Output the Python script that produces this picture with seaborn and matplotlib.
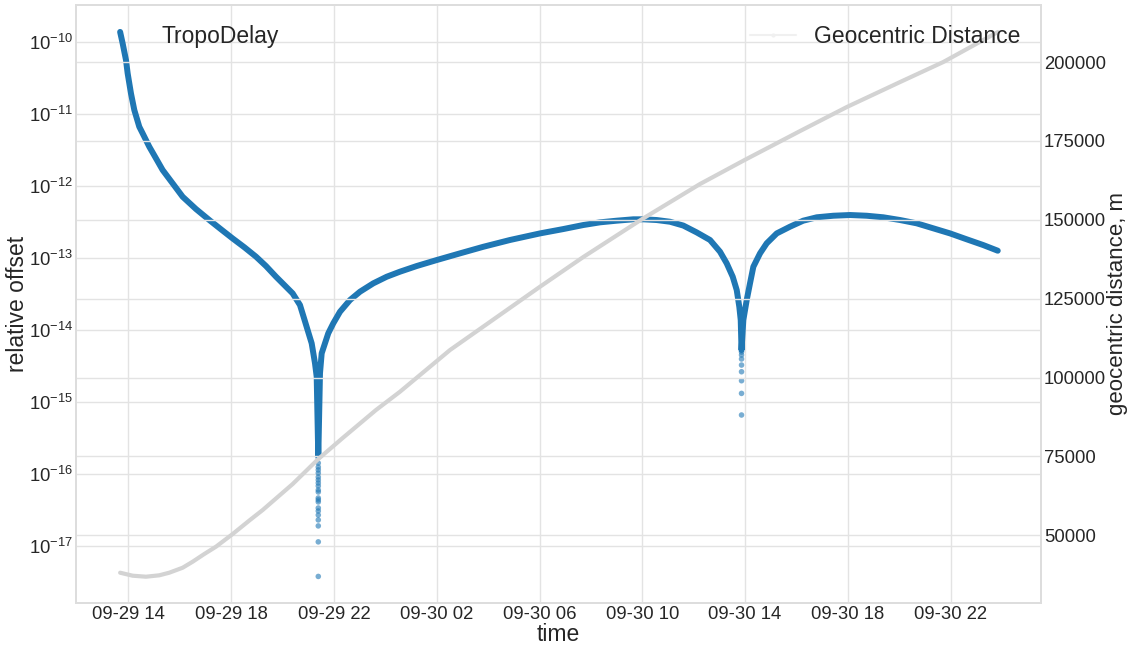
import numpy as np
import pandas as pd
import matplotlib
matplotlib.use("Agg")
import matplotlib.pyplot as plt
import matplotlib.dates as mdates
from matplotlib.ticker import FixedLocator, LogFormatterMathtext, MultipleLocator
from matplotlib.lines import Line2D
import seaborn as sns

# ---------------- data (hours since 09-29 00:00) ----------------
tropo_hours = [13.683, 13.781, 13.911, 13.976, 14.105, 14.235, 14.429, 14.559, 14.818,
               15.078, 15.337, 15.726, 16.116, 16.634, 17.153, 17.607, 18.061,
               18.514, 18.969, 19.358, 19.747, 20.07, 20.396, 20.681, 20.86,
               21.136, 21.265, 21.331, 21.393, 21.459, 21.525, 21.782, 21.977,
               22.237, 22.626, 23.016, 23.533, 24.054, 24.572, 25.222, 26.0,
               26.907, 27.813, 28.852, 30.02, 30.926, 31.704, 32.354, 33.004,
               33.65, 34.04, 34.56, 35.078, 35.595, 36.117, 36.634, 37.023,
               37.284, 37.518, 37.673, 37.774, 37.829, 37.86, 37.93, 38.062,
               38.19, 38.32, 38.58, 38.84, 39.23, 39.747, 40.26, 40.786, 41.43,
               42.082, 42.73, 43.377, 44.03, 44.677, 45.32, 45.973, 46.62,
               47.268, 47.829]
tropo_offset = [1.396e-10, 9.68e-11, 5.68e-11, 3.71e-11, 1.95e-11, 1.146e-11,
                6.71e-12, 5.43e-12, 3.54e-12, 2.44e-12, 1.68e-12, 1.096e-12,
                7.14e-13, 4.82e-13, 3.39e-13, 2.52e-13, 1.88e-13, 1.42e-13,
                1.05e-13, 7.78e-14, 5.53e-14, 4.24e-14, 3.24e-14, 2.23e-14,
                1.38e-14, 6.55e-15, 3.46e-15, 2.25e-15, 1.72e-16, 2.51e-15,
                4.76e-15, 9.04e-15, 1.245e-14, 1.80e-14, 2.62e-14, 3.42e-14,
                4.47e-14, 5.52e-14, 6.49e-14, 7.78e-14, 9.42e-14, 1.167e-13,
                1.44e-13, 1.79e-13, 2.21e-13, 2.54e-13, 2.89e-13, 3.15e-13,
                3.32e-13, 3.47e-13, 3.47e-13, 3.39e-13, 3.21e-13, 2.84e-13,
                2.28e-13, 1.79e-13, 1.23e-13, 8.47e-14, 5.52e-14, 3.61e-14,
                2.11e-14, 1.38e-14, 5.28e-15, 1.38e-14, 2.62e-14, 4.47e-14,
                7.60e-14, 1.167e-13, 1.61e-13, 2.21e-13, 2.74e-13, 3.32e-13,
                3.70e-13, 3.89e-13, 3.98e-13, 3.89e-13, 3.70e-13, 3.39e-13,
                3.05e-13, 2.60e-13, 2.21e-13, 1.83e-13, 1.52e-13, 1.27e-13]

# isolated samples at the bottom of the two dips
dip_hours = [21.393] * 20 + [37.86] * 8
dip_offset = [1.42e-16, 1.25e-16, 1.14e-16, 1.03e-16, 9.08e-17, 8.26e-17, 7.50e-17,
              6.81e-17, 6.00e-17, 5.62e-17, 4.64e-17, 4.36e-17, 4.09e-17, 3.37e-17,
              3.06e-17, 2.69e-17, 2.30e-17, 1.90e-17, 1.14e-17, 3.77e-18,
              4.96e-15, 4.51e-15, 3.97e-15, 3.27e-15, 2.64e-15, 1.98e-15,
              1.32e-15, 6.61e-16]

geo_hours = [13.683, 14.171, 14.689, 15.206, 15.595, 16.117, 16.506, 16.957, 17.412,
             18.062, 18.735, 19.23, 20.397, 21.393, 22.342, 23.638, 24.572, 26.518,
             30.02, 31.704, 33.977, 36.245, 37.98, 40.14, 41.957, 44.03, 45.71,
             47.83]
geo_dist = [38137, 37186, 36871, 37312, 38137, 39722, 41625, 44063, 46379, 50404,
            54843, 58011, 66252, 74175, 80831, 89705, 95505, 108721, 128784,
            138197, 150145, 161333, 168940, 178131, 185738, 193661, 200000, 209500]

offset_ticks = [1e-17, 1e-16, 1e-15, 1e-14, 1e-13, 1e-12, 1e-11, 1e-10]
dist_ticks = [50000, 75000, 100000, 125000, 150000, 175000, 200000]

base = pd.Timestamp("2023-09-29 00:00")
def to_time(h):
    return base + pd.to_timedelta(np.asarray(h, dtype=float), unit="h")

df_tropo = pd.DataFrame({"time": to_time(tropo_hours), "offset": tropo_offset})
df_dip = pd.DataFrame({"time": to_time(dip_hours), "offset": dip_offset})
df_geo = pd.DataFrame({"time": to_time(geo_hours), "dist": geo_dist})

# ---------------- style ----------------
sns.set_theme(style="whitegrid")
plt.rcParams["font.family"] = ["Liberation Sans", "DejaVu Sans"]
plt.rcParams["axes.edgecolor"] = "#dddddd"
plt.rcParams["grid.color"] = "#e3e3e3"

fig = plt.figure(figsize=(11.3, 6.47), dpi=100)
ax1 = fig.add_axes([0.0675, 0.068, 0.9212 - 0.0675, 0.9927 - 0.068])

blue = "#1f77b4"
sns.lineplot(data=df_tropo, x="time", y="offset", sort=False, estimator=None,
             color=blue, linewidth=4.3, ax=ax1, solid_capstyle="round",
             solid_joinstyle="round")
sns.scatterplot(data=df_dip, x="time", y="offset", color=blue, s=16, alpha=0.6,
                edgecolor="none", ax=ax1)
ax1.set_yscale("log")
ax1.set_ylim(10 ** -17.793, 10 ** -9.477)
ax1.set_xlim(to_time([11.977])[0], to_time([49.51])[0])
ax1.yaxis.set_major_locator(FixedLocator(offset_ticks))
ax1.yaxis.set_major_formatter(LogFormatterMathtext())
ax1.yaxis.set_minor_locator(plt.NullLocator())
ax1.xaxis.set_major_locator(mdates.HourLocator(byhour=[2, 6, 10, 14, 18, 22]))
ax1.xaxis.set_major_formatter(mdates.DateFormatter("%m-%d %H"))
ax1.set_xlabel("time", fontsize=16.5, labelpad=0)
ax1.set_ylabel("relative offset", fontsize=16.5, labelpad=0)
ax1.tick_params(axis="both", labelsize=13.3, pad=2, length=0)
ax1.grid(True, axis="both")

ax1.legend(handles=[Line2D([], [], linestyle="none", marker="none")],
           labels=["TropoDelay"], loc="upper left", frameon=False, fontsize=16.5)

ax2 = ax1.twinx()
sns.lineplot(data=df_geo, x="time", y="dist", sort=False, estimator=None,
             color="#d3d3d3", linewidth=3.0, ax=ax2, solid_joinstyle="round")
ax2.set_ylim(28535, 218160)
ax2.yaxis.set_major_locator(FixedLocator(dist_ticks))
ax2.set_ylabel("geocentric distance, m", fontsize=16, labelpad=1)
ax2.tick_params(axis="y", labelsize=13.3, pad=2, length=0)
ax2.grid(True, axis="y")
ax2.grid(False, axis="x")
ax2.set_xlim(ax1.get_xlim())
ax2.legend(handles=[Line2D([], [], color="#f0f0f0", linewidth=1.5, marker=".",
                           markersize=4)],
           labels=["Geocentric Distance"], loc="upper right", frameon=False,
           fontsize=16.5)
for sp in ax2.spines.values():
    sp.set_color("#dddddd")

fig.savefig("out.png", dpi=100)
